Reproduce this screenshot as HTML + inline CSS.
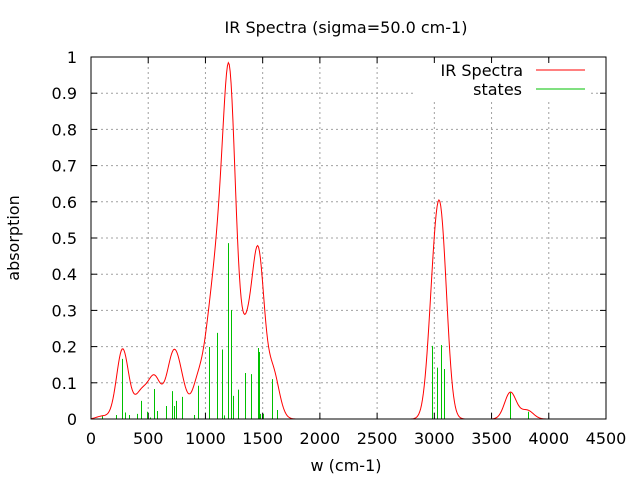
<!DOCTYPE html>
<html><head><meta charset="utf-8"><style>
html,body{margin:0;padding:0;background:#fff;}
svg{display:block;font-family:"DejaVu Sans","Liberation Sans",sans-serif;}
</style></head><body>
<svg id="s" width="640" height="480" xmlns="http://www.w3.org/2000/svg"></svg>
<script>
var L=91,R=606,T=57,B=419;
function X(w){return L+(w/4500)*(R-L);}
function Y(v){return B-v*(B-T);}
var s='';
for(var i=1;i<=9;i++){var xx=X(i*500);s+='<line x1="'+xx+'" y1="'+T+'" x2="'+xx+'" y2="'+B+'" stroke="#a0a0a0" stroke-dasharray="2,3" stroke-width="1"/>';}
for(var j=1;j<=9;j++){var yy=Y(j/10);s+='<line x1="'+L+'" y1="'+yy+'" x2="'+R+'" y2="'+yy+'" stroke="#a0a0a0" stroke-dasharray="2,3" stroke-width="1"/>';}
s+='<rect x="416" y="59" width="174" height="40" fill="#fff"/>';
for(var i=0;i<=9;i++){var xx=X(i*500);s+='<line x1="'+xx+'" y1="'+B+'" x2="'+xx+'" y2="'+(B-6)+'" stroke="#000"/><line x1="'+xx+'" y1="'+T+'" x2="'+xx+'" y2="'+(T+6)+'" stroke="#000"/>';
s+='<text x="'+xx+'" y="444" font-size="16" text-anchor="middle">'+(i*500)+'</text>';}
for(var j=0;j<=10;j++){var yy=Y(j/10);s+='<line x1="'+L+'" y1="'+yy+'" x2="'+(L+6)+'" y2="'+yy+'" stroke="#000"/><line x1="'+R+'" y1="'+yy+'" x2="'+(R-6)+'" y2="'+yy+'" stroke="#000"/>';
var lb=j==0?'0':(j==10?'1':'0.'+j);s+='<text x="77" y="'+(yy+6)+'" font-size="16" text-anchor="end">'+lb+'</text>';}
var st=[[99,.008],[221,.011],[274,.166],[300,.018],[335,.011],[405,.014],[440,.05],[487,.02],[518,.004],[551,.083],[580,.022],[658,.036],[711,.077],[728,.036],[745,.05],[798,.061],[903,.011],[938,.092],[1034,.199],[1104,.238],[1147,.192],[1165,.01],[1200,.486],[1226,.301],[1243,.064],[1287,.081],[1348,.127],[1401,.124],[1462,.196],[1470,.185],[1479,.014],[1500,.014],[1584,.11],[1628,.025],[2982,.202],[3026,.142],[3061,.204],[3087,.138],[3664,.073],[3821,.02]];
var cs=st.concat([[3040,.09],[3760,.008],[1200,.016]]);
for(var k=0;k<st.length;k++){var xx=Math.round(X(st[k][0]))+0.5;s+='<line x1="'+xx+'" y1="'+B+'" x2="'+xx+'" y2="'+Y(st[k][1])+'" stroke="#00c000" stroke-width="1"/>';}
var p='';for(var w=0;w<=4000;w+=8){var v=0;for(var k=0;k<cs.length;k++){var d=w-cs[k][0];v+=cs[k][1]*Math.exp(-d*d/5000);}
p+=(w==0?'M':'L')+X(w).toFixed(2)+','+Y(v).toFixed(2);}
s+='<path d="'+p+'" fill="none" stroke="#ff0000" stroke-width="1"/>';
s+='<rect x="'+L+'" y="'+T+'" width="'+(R-L)+'" height="'+(B-T)+'" fill="none" stroke="#000"/>';
s+='<text x="523" y="76" font-size="16" text-anchor="end">IR Spectra</text><line x1="536" y1="70" x2="585" y2="70" stroke="#ff0000"/>';
s+='<text x="522" y="95" font-size="16" text-anchor="end">states</text><line x1="536" y1="89" x2="585" y2="89" stroke="#00c000"/>';
s+='<text x="346" y="33" font-size="16" text-anchor="middle">IR Spectra (sigma=50.0 cm-1)</text>';
s+='<text x="346" y="471" font-size="16" text-anchor="middle">w (cm-1)</text>';
s+='<text transform="translate(19,238) rotate(-90)" font-size="16" text-anchor="middle">absorption</text>';
document.getElementById('s').innerHTML=s;
</script>
</body></html>
